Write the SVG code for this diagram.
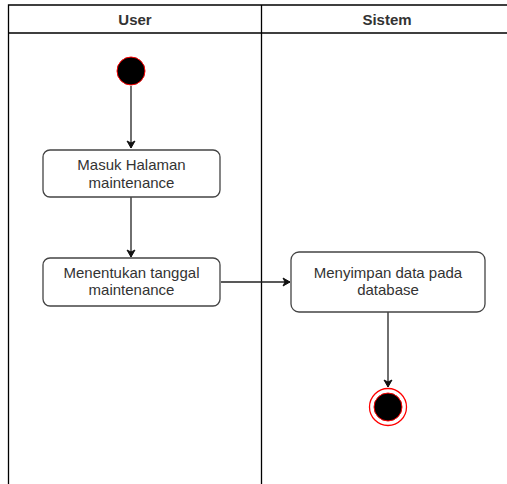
<svg xmlns="http://www.w3.org/2000/svg" width="507" height="484" viewBox="0 0 507 484">
<style>
.lane{fill:none;stroke:#000;stroke-width:1.3}
.hdr{font-family:"Liberation Sans",Arial,sans-serif;font-size:15px;font-weight:bold;fill:#333;text-anchor:middle}
.box{fill:#fff;stroke:#444;stroke-width:1.3}
.lbl{font-family:"Liberation Sans",Arial,sans-serif;font-size:15px;fill:#333;text-anchor:middle}
.edge{fill:none;stroke:#222;stroke-width:1.3}
</style>
<defs>
<marker id="ah" markerWidth="10" markerHeight="10" refX="8" refY="5" orient="auto" markerUnits="userSpaceOnUse">
<path d="M1,1 L8,5 L1,9 L3,5 Z" fill="#111" stroke="#111" stroke-width="1"/>
</marker>
</defs>
<g id="lanes">
<path class="lane" d="M507,5 H8.5 V484 M8.5,33 H507 M261.5,5 V484"/>
<text class="hdr" x="135" y="25">User</text>
<text class="hdr" x="387" y="25">Sistem</text>
</g>
<g id="connectors">
<path class="edge" d="M131,86 V148" marker-end="url(#ah)"/>
<path class="edge" d="M131,197 V257" marker-end="url(#ah)"/>
<path class="edge" d="M221,282 H290" marker-end="url(#ah)"/>
<path class="edge" d="M388,312 V387" marker-end="url(#ah)"/>
</g>
<g id="start">
<circle cx="131" cy="71" r="14" fill="#000" stroke="#f00" stroke-width="1"/>
</g>
<g id="n1">
<rect class="box" x="43" y="150" width="177" height="47" rx="7"/>
<text class="lbl" x="131.5" y="170">Masuk Halaman</text>
<text class="lbl" x="131.5" y="187.5">maintenance</text>
</g>
<g id="n2">
<rect class="box" x="43" y="258" width="177" height="48" rx="7"/>
<text class="lbl" x="131.5" y="277.5">Menentukan tanggal</text>
<text class="lbl" x="131.5" y="295">maintenance</text>
</g>
<g id="n3">
<rect class="box" x="291" y="252" width="194" height="60" rx="8"/>
<text class="lbl" x="388" y="277.5">Menyimpan data pada</text>
<text class="lbl" x="388" y="295">database</text>
</g>
<g id="end">
<circle cx="388" cy="407" r="18.5" fill="#fff" stroke="#f00" stroke-width="1.3"/>
<circle cx="388" cy="407" r="14" fill="#000" stroke="#f00" stroke-width="1"/>
</g>
</svg>
